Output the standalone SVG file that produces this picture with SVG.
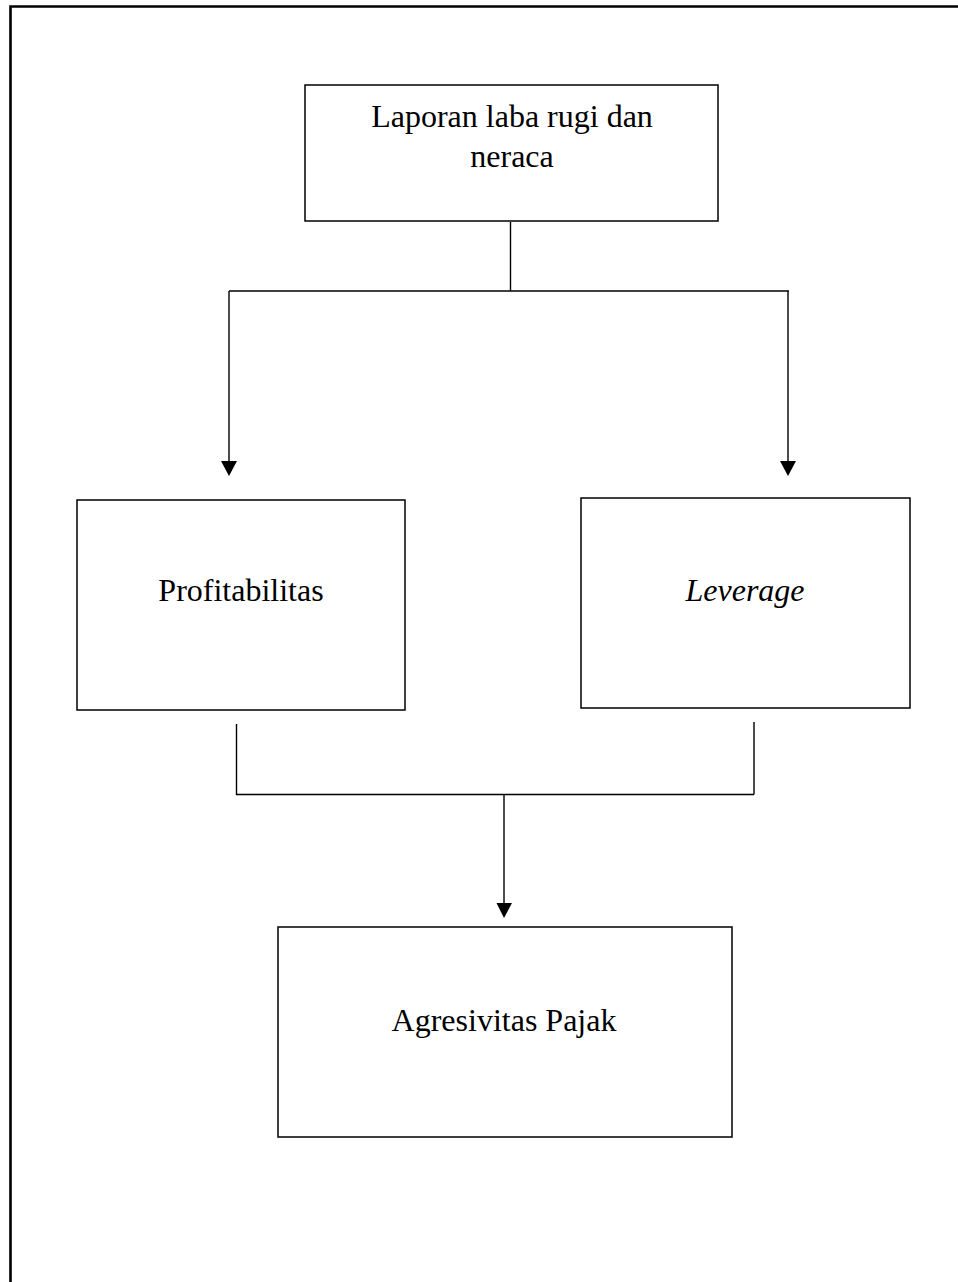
<svg xmlns="http://www.w3.org/2000/svg" width="958" height="1282" viewBox="0 0 958 1282">
<style>
.box{fill:#fff;stroke:#000;stroke-width:1.5}
.ln{fill:none;stroke:#000;stroke-width:1.4}
.ah{fill:#000}
.t{font-family:"Liberation Serif","Times New Roman",serif;font-size:32px;fill:#000;text-anchor:middle}
</style>
<rect width="958" height="1282" fill="#fff"/>
<path d="M10.5,1282 V6.5 H958" fill="none" stroke="#000" stroke-width="2.6"/>
<g id="connectors">
<path class="ln" d="M510.5,222 V291"/>
<path class="ln" d="M229,291 H789"/>
<path class="ln" d="M229,291 V462"/>
<polygon class="ah" points="221,461 237,461 229,476"/>
<path class="ln" d="M788,291 V462"/>
<polygon class="ah" points="780,461 796,461 788,476"/>
<path class="ln" d="M236.5,724 V794.5 H754"/>
<path class="ln" d="M754,722 V794.5"/>
<path class="ln" d="M504,794.5 V904"/>
<polygon class="ah" points="496.5,903 512,903 504,918"/>
</g>
<g id="n-laporan">
<rect class="box" x="305" y="85" width="413" height="136"/>
<text class="t" x="512" y="127">Laporan laba rugi dan</text>
<text class="t" x="512" y="167">neraca</text>
</g>
<g id="n-profitabilitas">
<rect class="box" x="77" y="500" width="328" height="210"/>
<text class="t" x="241" y="601">Profitabilitas</text>
</g>
<g id="n-leverage">
<rect class="box" x="581" y="498" width="329" height="210"/>
<text class="t" x="745" y="601" font-style="italic">Leverage</text>
</g>
<g id="n-agresivitas">
<rect class="box" x="278" y="927" width="454" height="210"/>
<text class="t" x="504" y="1031">Agresivitas Pajak</text>
</g>
</svg>
